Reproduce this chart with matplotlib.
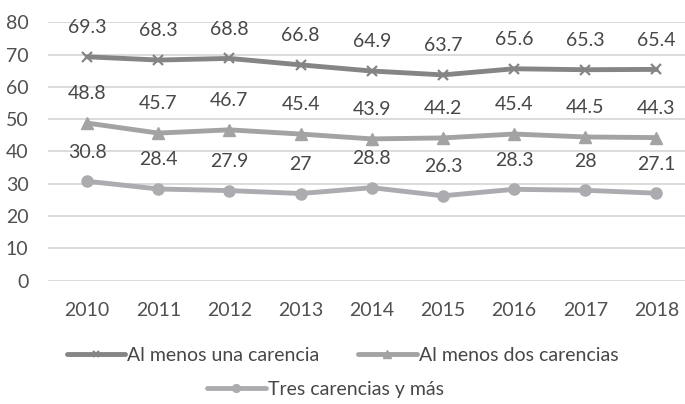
import matplotlib
matplotlib.use("Agg")
import matplotlib.pyplot as plt
import numpy as np

years = ["2010", "2011", "2012", "2013", "2014", "2015", "2016", "2017", "2018"]
una = [69.3, 68.3, 68.8, 66.8, 64.9, 63.7, 65.6, 65.3, 65.4]
dos = [48.8, 45.7, 46.7, 45.4, 43.9, 44.2, 45.4, 44.5, 44.3]
tres = [30.8, 28.4, 27.9, 27, 28.8, 26.3, 28.3, 28, 27.1]
names = ["Al menos una carencia", "Al menos dos carencias", "Tres carencias y más"]

plt.rcParams['font.family'] = ['Lato', 'DejaVu Sans']

fig = plt.figure(figsize=(6.85, 4.04), dpi=100)
ax = fig.add_axes([0.07, 0.305, 0.935, 0.64])

x = np.arange(len(years))
styles = [
    (una, "#858585", "x", 7, 1.6),
    (dos, "#a3a3a3", "^", 8, 1),
    (tres, "#acacb0", "o", 8, 1),
]
fs = 14
handles = []
for (vals, col, mk, ms, mew), name in zip(styles, names):
    h, = ax.plot(x, vals, color=col, lw=3.5, marker=mk, ms=ms, mew=mew,
                 mec=col, mfc=col, label=name, solid_capstyle='round', zorder=3)
    handles.append(h)
    for xi, v in zip(x, vals):
        lab = ("%g" % v)
        ax.annotate(lab, (xi, v), xytext=(0, 21), textcoords="offset points",
                    ha="center", va="center", fontsize=fs, color="#474747")

ax.set_xlim(-0.55, 8.45)
ax.set_ylim(0, 80)
ax.set_yticks(range(0, 81, 10))
ax.set_xticks(x)
ax.set_xticklabels(years)
ax.grid(axis="y", color="#d9d9d9", lw=1.3)
ax.set_axisbelow(True)
for s in ax.spines.values():
    s.set_visible(False)
ax.tick_params(length=0, labelsize=fs, colors="#505050", pad=15)
ax.tick_params(axis="y", pad=14)

leg1 = fig.legend(handles[:2], names[:2], loc="center", bbox_to_anchor=(0.5, 0.12),
                  ncol=2, frameon=False, fontsize=fs, handlelength=3.0,
                  handletextpad=0.1, columnspacing=2.0, markerscale=0.7)
leg2 = fig.legend(handles[2:], names[2:], loc="center", bbox_to_anchor=(0.475, 0.037),
                  frameon=False, fontsize=fs, handlelength=3.0,
                  handletextpad=0.1, markerscale=0.7)
for lg in (leg1, leg2):
    for t in lg.get_texts():
        t.set_color("#474747")

fig.savefig("out.png", dpi=100)
